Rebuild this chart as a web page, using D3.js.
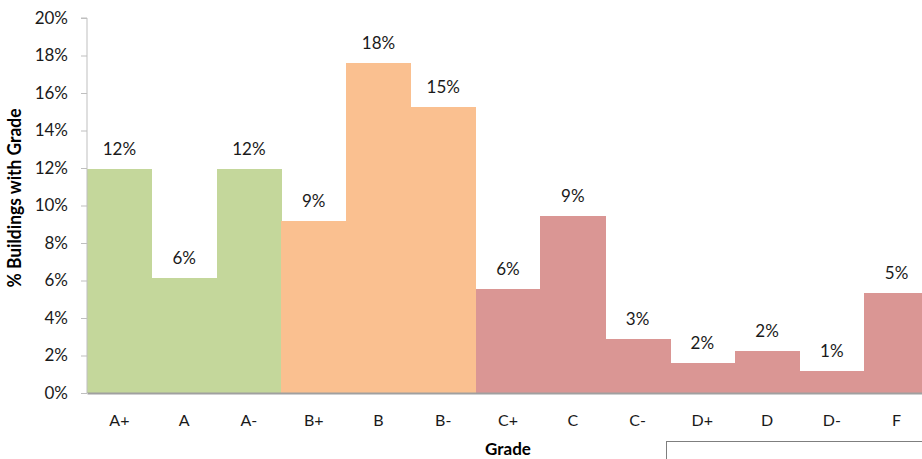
<!DOCTYPE html>
<html>
<head>
<meta charset="utf-8">
<script src="https://cdn.jsdelivr.net/npm/d3@7/dist/d3.min.js"></script>
<style>
  html, body { margin: 0; padding: 0; background: #fff; }
  svg { display: block; font-family: Lato, "Open Sans", "Liberation Sans", sans-serif; }
</style>
</head>
<body>
<svg id="chart" width="922" height="459"></svg>
<script>
// Share of buildings by letter grade
const grades = ["A+", "A", "A-", "B+", "B", "B-", "C+", "C", "C-", "D+", "D", "D-", "F"];
const shares = [11.95, 6.12, 11.95, 9.15, 17.6, 15.25, 5.55, 9.45, 2.88, 1.6, 2.23, 1.17, 5.33];
const groups = ["A", "A", "A", "B", "B", "B", "C", "C", "C", "C", "C", "C", "C"];
const yTicks = [0, 2, 4, 6, 8, 10, 12, 14, 16, 18, 20];
const groupColors = { A: "#c4d79b", B: "#fac090", C: "#da9694" };

const svg = d3.select("#chart");
const margin = { left: 87, top: 18, bottom: 66 };
const plotRight = 929;
const H = 459;
const font = "Lato, 'Open Sans', sans-serif";

const x = d3.scaleBand().domain(grades).range([margin.left, plotRight]).padding(0);
const y = d3.scaleLinear().domain([0, 20]).range([H - margin.bottom, margin.top]);

// Bars (adjacent, no gaps)
svg.append("g")
  .attr("shape-rendering", "crispEdges")
  .selectAll("rect")
  .data(grades)
  .join("rect")
  .attr("x", d => x(d))
  .attr("width", x.bandwidth() + 0.6)
  .attr("y", (d, i) => y(shares[i]))
  .attr("height", (d, i) => y(0) - y(shares[i]))
  .attr("fill", (d, i) => groupColors[groups[i]]);

// Value labels
svg.append("g").selectAll("text")
  .data(grades)
  .join("text")
  .attr("x", d => x(d) + x.bandwidth() / 2)
  .attr("y", (d, i) => y(shares[i]) - 14)
  .attr("text-anchor", "middle")
  .attr("font-size", 17)
  .attr("fill", "#1a1a1a")
  .text((d, i) => Math.round(shares[i]) + "%");

// Y axis
const yAxis = d3.axisLeft(y).tickValues(yTicks).tickFormat(d => d + "%").tickSize(6).tickPadding(13);
const gy = svg.append("g").attr("transform", `translate(${margin.left},0)`).call(yAxis);
gy.select(".domain").attr("stroke", "#bfbfbf").attr("d", `M-6,${y(20)}H0V${y(0)}`);
gy.selectAll(".tick line").attr("stroke", "#bfbfbf");
gy.selectAll(".tick text").attr("font-size", 17).attr("fill", "#1a1a1a").attr("font-family", font);

// X axis
const xAxis = d3.axisBottom(x).tickSize(0).tickPadding(22);
const gx = svg.append("g").attr("transform", `translate(0,${y(0)})`).call(xAxis);
gx.select(".domain").attr("stroke", "#a0a0a0").attr("stroke-width", 2);
gx.selectAll(".tick text").attr("font-size", 16).attr("fill", "#1a1a1a").attr("font-family", font);

// Axis titles
svg.append("text")
  .attr("x", 508)
  .attr("y", 455)
  .attr("text-anchor", "middle")
  .attr("font-size", 17)
  .attr("font-weight", "bold")
  .attr("fill", "#000")
  .text("Grade");

svg.append("text")
  .attr("transform", `translate(21,198) rotate(-90)`)
  .attr("text-anchor", "middle")
  .attr("font-size", 18)
  .attr("font-weight", "bold")
  .attr("fill", "#000")
  .attr("textLength", 179)
  .attr("lengthAdjust", "spacingAndGlyphs")
  .text("% Buildings with Grade");

// Legend frame at lower right
svg.append("rect")
  .attr("x", 666.5)
  .attr("y", 441.5)
  .attr("width", 300)
  .attr("height", 40)
  .attr("fill", "#fff")
  .attr("stroke", "#7f7f7f")
  .attr("stroke-width", 1);
</script>
</body>
</html>
